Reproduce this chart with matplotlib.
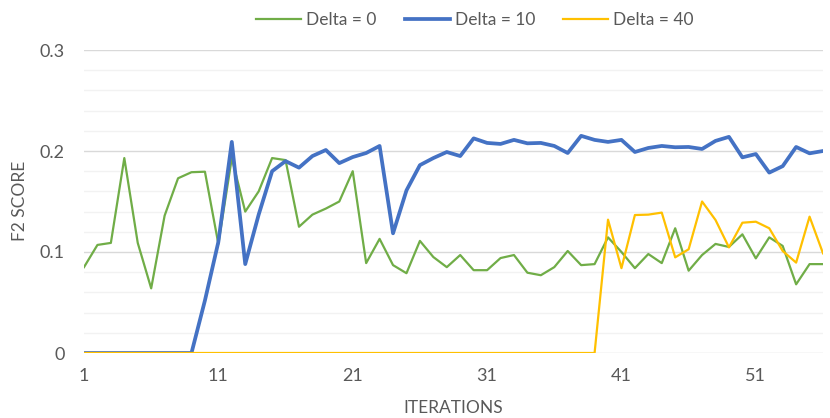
import numpy as np
import matplotlib.pyplot as plt
from matplotlib.ticker import MultipleLocator

plt.rcParams['font.family'] = ['Lato', 'DejaVu Sans']

iterations = np.arange(1, 57)

delta_0 = [0.085, 0.107, 0.109, 0.193, 0.109, 0.064, 0.136, 0.173, 0.179, 0.1795,
           0.108, 0.193, 0.140, 0.160, 0.193, 0.191, 0.125, 0.137, 0.143, 0.150,
           0.180, 0.089, 0.113, 0.087, 0.079, 0.111, 0.095, 0.085, 0.097, 0.082,
           0.082, 0.094, 0.097, 0.0795, 0.077, 0.085, 0.101, 0.087, 0.088, 0.1145,
           0.100, 0.084, 0.098, 0.089, 0.1235, 0.0815, 0.097, 0.108, 0.105, 0.1175,
           0.0937, 0.1145, 0.106, 0.068, 0.088, 0.088]

delta_10 = [0, 0, 0, 0, 0, 0, 0, 0, 0, 0.052,
            0.110, 0.209, 0.088, 0.137, 0.180, 0.190, 0.1835, 0.195, 0.201, 0.188,
            0.194, 0.198, 0.205, 0.1185, 0.161, 0.186, 0.193, 0.199, 0.195, 0.2125,
            0.208, 0.207, 0.211, 0.2076, 0.208, 0.205, 0.198, 0.215, 0.211, 0.209,
            0.211, 0.199, 0.203, 0.205, 0.2037, 0.204, 0.202, 0.210, 0.214, 0.1937,
            0.197, 0.1786, 0.185, 0.204, 0.1977, 0.200]

delta_40 = [0] * 39 + [0.132, 0.084, 0.1366, 0.137, 0.139, 0.0947, 0.1027, 0.150, 0.1317,
                       0.1046, 0.129, 0.130, 0.1235, 0.101, 0.0895, 0.135, 0.0987]

x_ticks = [1, 11, 21, 31, 41, 51]

text_color = '#595959'

fig = plt.figure(figsize=(8.3, 4.18), dpi=100)
ax = fig.add_axes([84 / 830, 1 - 353 / 418, (823 - 84) / 830, (353 - 50) / 418])

ax.plot(iterations, delta_0, color='#70AD47', lw=1.6, label='Delta = 0', solid_joinstyle='round')
ax.plot(iterations, delta_10, color='#4472C4', lw=2.7, label='Delta = 10', solid_joinstyle='round')
ax.plot(iterations, delta_40, color='#FFC000', lw=1.6, label='Delta = 40', solid_joinstyle='round')

ax.set_xlim(1, 56)
ax.set_ylim(0, 0.3)
ax.set_xticks(x_ticks)
ax.set_yticks([0, 0.1, 0.2, 0.3])
ax.set_yticklabels(['0', '0.1', '0.2', '0.3'])
ax.yaxis.set_minor_locator(MultipleLocator(0.02))

# gridlines like excel: major darker, minor lighter
ax.grid(axis='y', which='major', color='#D9D9D9', lw=1.0, zorder=0)
ax.grid(axis='y', which='minor', color='#F2F2F2', lw=1.0, zorder=0)
ax.set_axisbelow(True)

for s in ax.spines.values():
    s.set_visible(False)
ax.tick_params(axis='both', which='both', length=0, labelsize=13, colors=text_color)
ax.tick_params(axis='y', pad=14)
ax.tick_params(axis='x', pad=11)

fig.text(20 / 830, 1 - 201 / 418, 'F2 SCORE', rotation=90, ha='center', va='center',
         fontsize=12.5, color=text_color)
fig.text(453 / 830, 1 - 408 / 418, 'ITERATIONS', ha='center', va='center',
         fontsize=12.5, color=text_color)

leg = fig.legend(loc='center', bbox_to_anchor=(475 / 830, 1 - 20 / 418), ncol=3,
                 frameon=False, fontsize=12.5, handlelength=2.6, handletextpad=0.3,
                 columnspacing=1.6)
for t in leg.get_texts():
    t.set_color(text_color)

plt.savefig('out.png', dpi=100)
